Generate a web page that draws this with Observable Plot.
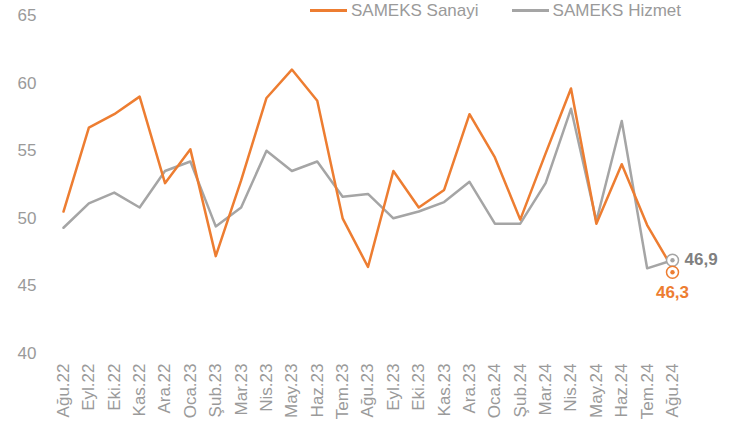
<!DOCTYPE html>
<html>
<head>
<meta charset="utf-8">
<script src="https://cdn.jsdelivr.net/npm/d3@7"></script>
<script src="https://cdn.jsdelivr.net/npm/@observablehq/plot@0.6"></script>
<style>
  html, body { margin: 0; padding: 0; background: #fff; }
  #wrap { position: relative; width: 736px; height: 425px; font-family: "Liberation Sans", Arial, sans-serif; }
  #legend { position: absolute; top: 0; left: 310px; height: 21px; display: flex; align-items: center; font-size: 17px; color: #9a9a9a; white-space: nowrap; }
  #legend .sw { display: inline-block; width: 37px; height: 3px; margin-right: 4px; }
  #legend .item { display: flex; align-items: center; margin-right: 33px; }
</style>
</head>
<body>
<div id="wrap">
  <div id="legend"></div>
  <div id="chart"></div>
</div>
<script>
const months = ["Ağu.22","Eyl.22","Eki.22","Kas.22","Ara.22","Oca.23","Şub.23","Mar.23","Nis.23","May.23","Haz.23","Tem.23","Ağu.23","Eyl.23","Eki.23","Kas.23","Ara.23","Oca.24","Şub.24","Mar.24","Nis.24","May.24","Haz.24","Tem.24","Ağu.24"];
const sanayi = [50.5,56.7,57.7,59.0,52.6,55.1,47.2,52.8,58.9,61.0,58.7,50.0,46.4,53.5,50.8,52.1,57.7,54.5,49.9,54.8,59.6,49.6,54.0,49.5,46.3];
const hizmet = [49.3,51.1,51.9,50.8,53.5,54.2,49.4,50.8,55.0,53.5,54.2,51.6,51.8,50.0,50.5,51.2,52.7,49.6,49.6,52.6,58.1,49.8,57.2,46.3,46.9];
const yTicks = [40,45,50,55,60,65];
const seriesNames = ["SAMEKS Sanayi","SAMEKS Hizmet"];
const colors = ["#ED7D31","#A5A5A5"];
const endLabels = ["46,3","46,9"];

const rows = [];
months.forEach((m,i) => {
  rows.push({month: m, value: sanayi[i], series: seriesNames[0]});
  rows.push({month: m, value: hizmet[i], series: seriesNames[1]});
});
const last = months.length - 1;
const endS = [{month: months[last], value: sanayi[last], label: endLabels[0]}];
const endH = [{month: months[last], value: hizmet[last], label: endLabels[1]}];

const chart = Plot.plot({
  width: 736,
  height: 425,
  marginLeft: 63,
  marginRight: 64,
  marginTop: 15,
  marginBottom: 72,
  style: {fontFamily: "Liberation Sans, Arial, sans-serif", background: "transparent"},
  x: {type: "point", domain: months, padding: 0, round: false, label: null},
  y: {domain: [40, 65], label: null},
  marks: [
    Plot.axisY({ticks: yTicks, tickSize: 0, tickPadding: 27, fontSize: 17, fill: "#9a9a9a", tickFormat: d => d, label: null}),
    Plot.axisX({tickSize: 0, tickPadding: 10, tickRotate: -90, fontSize: 17, fill: "#9a9a9a", label: null}),
    Plot.line(rows.filter(d => d.series === seriesNames[1]), {x: "month", y: "value", stroke: colors[1], strokeWidth: 2.5}),
    Plot.line(rows.filter(d => d.series === seriesNames[0]), {x: "month", y: "value", stroke: colors[0], strokeWidth: 2.5}),
    Plot.dot(endH, {x: "month", y: "value", r: 6, fill: "white", stroke: colors[1], strokeWidth: 1.5}),
    Plot.dot(endH, {x: "month", y: "value", r: 2.2, fill: colors[1]}),
    Plot.dot(endS, {x: "month", y: "value", r: 6, dy: 4, fill: "white", stroke: colors[0], strokeWidth: 1.5}),
    Plot.dot(endS, {x: "month", y: "value", r: 2.2, dy: 4, fill: colors[0]}),
    Plot.text(endH, {x: "month", y: "value", text: "label", dx: 12, dy: -1, textAnchor: "start", fontSize: 17, fontWeight: "bold", fill: "#808080"}),
    Plot.text(endS, {x: "month", y: "value", text: "label", dy: 24, textAnchor: "middle", fontSize: 17, fontWeight: "bold", fill: colors[0]})
  ]
});
document.getElementById("chart").appendChild(chart);

const leg = document.getElementById("legend");
seriesNames.forEach((n, i) => {
  const it = document.createElement("span");
  it.className = "item";
  const sw = document.createElement("span");
  sw.className = "sw";
  sw.style.background = colors[i];
  it.appendChild(sw);
  it.appendChild(document.createTextNode(n));
  leg.appendChild(it);
});
</script>
</body>
</html>
